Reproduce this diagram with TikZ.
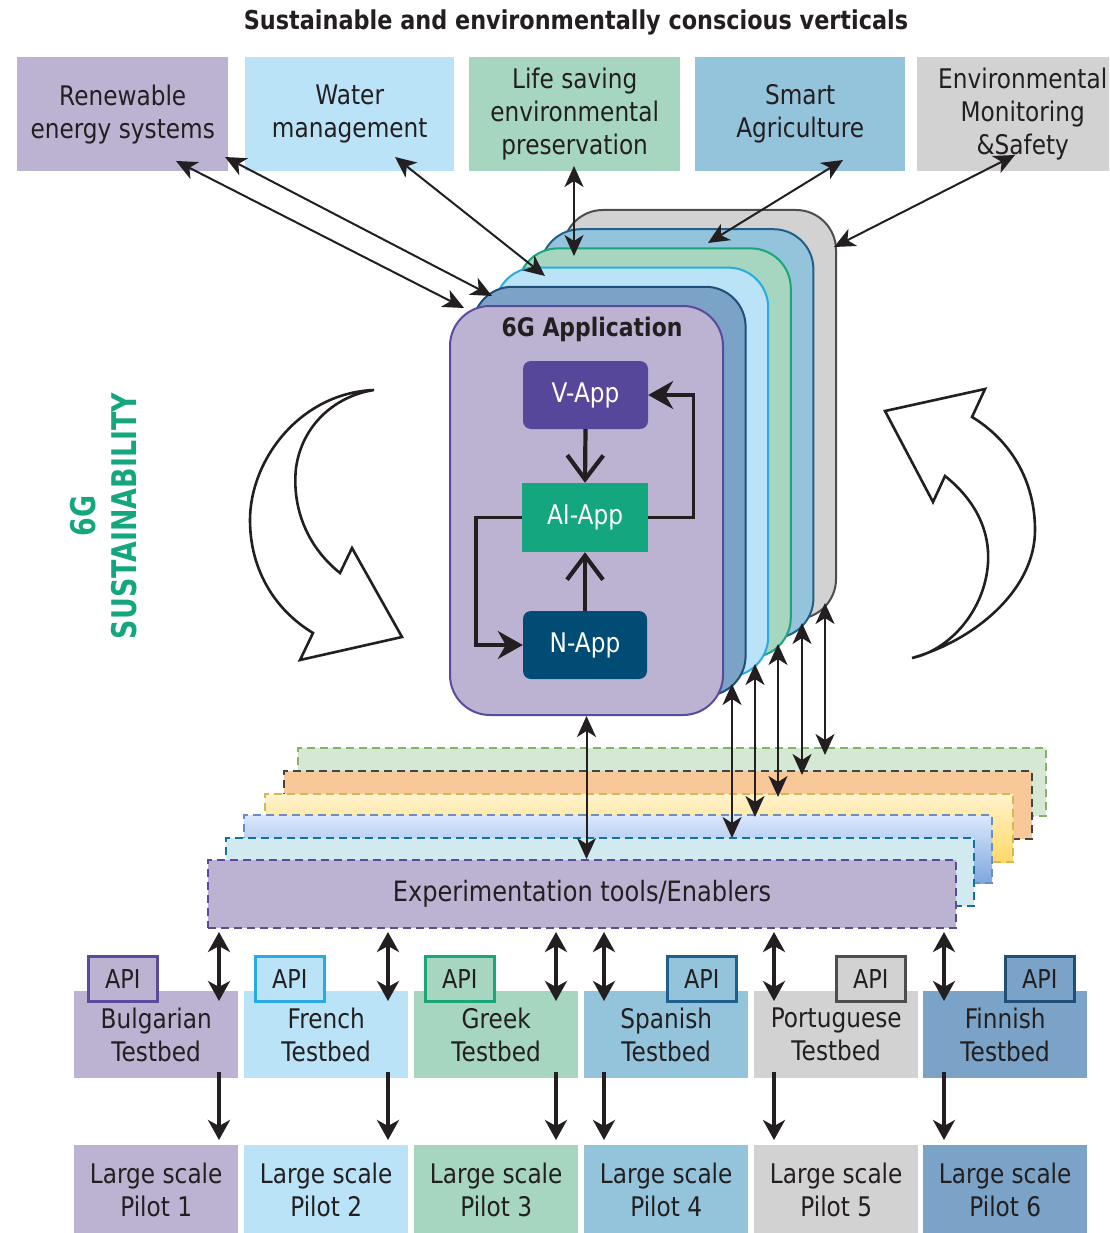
\documentclass[tikz,border=0pt]{standalone}
\usepackage{fontspec}
\setmainfont{DejaVu Sans}[FakeStretch=0.86]
\newfontfamily\susfont{DejaVu Sans}[FakeStretch=0.79]
\usetikzlibrary{arrows.meta,calc}
\definecolor{txt}{HTML}{231F20}
\definecolor{lav}{HTML}{BCB3D3}
\definecolor{lavD}{HTML}{5B4A9B}
\definecolor{lblue}{HTML}{BBE3F7}
\definecolor{lblueD}{HTML}{29ABE2}
\definecolor{mint}{HTML}{A6D5C0}
\definecolor{mintD}{HTML}{1AA57A}
\definecolor{sky}{HTML}{94C4DC}
\definecolor{skyD}{HTML}{1F5F8B}
\definecolor{lgrey}{HTML}{D2D2D2}
\definecolor{lgreyD}{HTML}{4D4D4D}
\definecolor{steel}{HTML}{7BA3C8}
\definecolor{steelD}{HTML}{1F4E79}
\definecolor{vappc}{HTML}{56479A}
\definecolor{aiappc}{HTML}{14A67E}
\definecolor{nappc}{HTML}{004C75}
\definecolor{lgF}{HTML}{D5E8D4}\definecolor{lgD}{HTML}{82B366}
\definecolor{loF}{HTML}{F9C898}\definecolor{loD}{HTML}{444444}
\definecolor{lyT}{HTML}{FFF2CC}\definecolor{lyB}{HTML}{FFD966}\definecolor{lyD}{HTML}{D6B656}
\definecolor{lbT}{HTML}{DAE8FC}\definecolor{lbB}{HTML}{7EA6E0}\definecolor{lbD}{HTML}{6C8EBF}
\definecolor{lcF}{HTML}{D1EAF0}\definecolor{lcD}{HTML}{10739E}
\newcommand\txtA{\fontsize{27}{33}\selectfont}
\newcommand\txtAPI{\fontsize{26}{30}\selectfont}
\newcommand\txtApp{\fontsize{27}{30}\selectfont}
\newcommand\txtExp{\fontsize{28}{32}\selectfont}
\tikzset{
 vbox/.style={anchor=north west, inner sep=0pt, align=center, text=txt, font=\txtA, minimum height=114pt},
 card/.style={anchor=north west, minimum width=273pt, minimum height=409pt, rounded corners=40pt, line width=2pt, inner sep=0pt},
 layer/.style={anchor=north west, minimum width=748pt, minimum height=68pt, line width=2pt, dash pattern=on 8pt off 5pt, inner sep=0pt},
 tbed/.style={anchor=north west, minimum width=164pt, minimum height=87pt, inner sep=0pt, align=center, text=txt, font=\txtA},
 pilot/.style={anchor=north west, minimum width=164pt, minimum height=90pt, inner sep=0pt, align=center, text=txt, font=\txtA},
 apibox/.style={anchor=north west, minimum width=69pt, minimum height=45pt, inner sep=0pt, line width=2.6pt, text=txt, font=\txtAPI},
 app/.style={minimum width=125pt, minimum height=68pt, inner sep=0pt, text=white, font=\txtApp},
 thinarrow/.style={line width=2pt, draw=txt, >={Stealth[length=21pt,width=19pt,inset=6pt]}, <->},
 tbarrow/.style={line width=3.5pt, draw=txt, >={Stealth[length=20pt,width=22pt,inset=6pt]}, <->},
 pilarrow/.style={line width=3.5pt, draw=txt, >={Stealth[length=20pt,width=22pt,inset=6pt]}, ->},
 apparrow/.style={line width=4.2pt, draw=txt, -{Straight Barb[length=24pt,width=36pt]}},
 looparrow/.style={line width=3.4pt, draw=txt, -{Stealth[length=25pt,width=28pt,inset=8pt]}},
 hollow/.style={line width=2.6pt, draw=txt, fill=white, line join=miter},
}
\begin{document}
\begin{tikzpicture}[x=1pt,y=-1pt]
\useasboundingbox (0,0) rectangle (1109,1233);
\clip (0,0) rectangle (1109,1233);

% title
\node[font=\bfseries\fontsize{26}{30}\selectfont, text=txt] (title) at (576,22) {Sustainable and environmentally conscious verticals};

% verticals
\node[vbox, fill=lav, minimum width=211pt] (ren) at (17,57) {Renewable\\energy systems};
\node[vbox, fill=lblue, minimum width=209pt] (wat) at (245,57) {Water\\management};
\node[vbox, fill=mint, minimum width=211pt] (life) at (469,57) {Life saving\\environmental\\preservation};
\node[vbox, fill=sky, minimum width=210pt] (smart) at (695,57) {Smart\\Agriculture};
\node[vbox, fill=lgrey, minimum width=211pt] (env) at (917,57) {Environmental\\Monitoring\\\&Safety};

% stacked application cards
\node[card, fill=lgrey, draw=lgreyD] (card5) at (562,209) {};
\node[card, fill=sky, draw=skyD] (card4) at (539.4,228.2) {};
\node[card, fill=mint, draw=mintD] (card3) at (516.8,247.4) {};
\node[card, fill=lblue, draw=lblueD] (card2) at (494.2,266.6) {};
\node[card, fill=steel, draw=steelD] (card1) at (471.6,285.8) {};
\node[card, fill=lav, draw=lavD] (card0) at (449,305) {};
\node[font=\bfseries\fontsize{25.5}{30}\selectfont, text=txt] (apptitle) at (592,329) {6G Application};

\node[app, fill=vappc, rounded corners=8pt] (vapp) at (585.5,395) {V-App};
\node[app, fill=aiappc, minimum width=126pt, minimum height=69pt] (aiapp) at (585,517.5) {AI-App};
\node[app, fill=nappc, rounded corners=8pt, minimum width=124pt] (napp) at (585,645) {N-App};
\draw[apparrow] (vapp.south) -- (aiapp.north);
\draw[apparrow] (napp.north) -- (aiapp.south);
\draw[looparrow] (aiapp.east) -- ++(45,0) |- (vapp.east);
\draw[looparrow] (aiapp.west) -- ++(-46,0) |- (napp.west);

% experimentation layers
\node[layer, fill=lgF, draw=lgD] (lay6) at (297,747) {};
\node[layer, fill=loF, draw=loD] (lay5) at (283,770) {};
\node[layer, top color=lyT, bottom color=lyB, draw=lyD] (lay4) at (264,793) {};
\node[layer, top color=lbT, bottom color=lbB, draw=lbD] (lay3) at (243,814) {};
\node[layer, fill=lcF, draw=lcD] (lay2) at (225,837) {};
\node[layer, fill=lav, draw=lavD, text=txt, font=\txtExp] (lay1) at (207,859) {Experimentation tools/Enablers};

% testbeds
\node[tbed, fill=lav] (tb1) at (74,991) {Bulgarian\\Testbed};
\node[tbed, fill=lblue] (tb2) at (244,991) {French\\Testbed};
\node[tbed, fill=mint] (tb3) at (414,991) {Greek\\Testbed};
\node[tbed, fill=sky] (tb4) at (584,991) {Spanish\\Testbed};
\node[tbed, fill=lgrey] (tb5) at (754,991) {Portuguese\\Testbed};
\node[tbed, fill=steel] (tb6) at (923,991) {Finnish\\Testbed};

\node[apibox, fill=lav, draw=lavD] (api1) at (87,955) {API};
\node[apibox, fill=lblue, draw=lblueD] (api2) at (254,955) {API};
\node[apibox, fill=mint, draw=mintD] (api3) at (424,955) {API};
\node[apibox, fill=sky, draw=skyD] (api4) at (666,955) {API};
\node[apibox, fill=lgrey, draw=lgreyD] (api5) at (835,955) {API};
\node[apibox, fill=steel, draw=steelD] (api6) at (1004,955) {API};

% pilots
\node[pilot, fill=lav] (pl1) at (74,1145) {Large scale\\Pilot 1};
\node[pilot, fill=lblue] (pl2) at (244,1145) {Large scale\\Pilot 2};
\node[pilot, fill=mint] (pl3) at (414,1145) {Large scale\\Pilot 3};
\node[pilot, fill=sky] (pl4) at (584,1145) {Large scale\\Pilot 4};
\node[pilot, fill=lgrey] (pl5) at (754,1145) {Large scale\\Pilot 5};
\node[pilot, fill=steel] (pl6) at (923,1145) {Large scale\\Pilot 6};

% arrows verticals <-> cards
\coordinate (a1t) at (176,161); \coordinate (a1b) at (464,308);
\coordinate (a2t) at (225,157); \coordinate (a2b) at (492,296);
\coordinate (a3t) at (395,157); \coordinate (a3b) at (545,276);
\coordinate (a4t) at (574,166); \coordinate (a4b) at (574,256);
\coordinate (a5t) at (843,160); \coordinate (a5b) at (708,243);
\coordinate (a6t) at (1015,155); \coordinate (a6b) at (834,247);
\foreach \i in {1,...,6} { \draw[thinarrow] (a\i t) -- (a\i b); }

% arrows cards <-> layers
\draw[thinarrow] (card0.south) -- (card0.south |- lay1.north);
\coordinate (v1t) at (732,684); \coordinate (v1b) at (732,838);
\coordinate (v2t) at (755,664); \coordinate (v2b) at (755,817);
\coordinate (v3t) at (778,644); \coordinate (v3b) at (778,797);
\coordinate (v4t) at (802,623); \coordinate (v4b) at (802,775);
\coordinate (v5t) at (825,603); \coordinate (v5b) at (825,755);
\foreach \i in {1,...,5} { \draw[thinarrow] (v\i t) -- (v\i b); }

% arrows layers <-> testbeds -> pilots
\foreach \i/\x in {1/219,2/388,3/556,4/604,5/774,6/944} {
  \coordinate (ut\i) at (\x,932);
  \coordinate (ub\i) at (\x,1001);
  \coordinate (ps\i) at (\x,1072);
  \coordinate (pe\i) at (\x,1140);
  \draw[tbarrow] (ut\i) -- (ub\i);
  \draw[pilarrow] (ps\i) -- (pe\i);
}

% hollow curved arrows
\draw[hollow] (374,390) .. controls (300,393) and (250,460) .. (250,520)
  .. controls (250,570) and (275,610) .. (313,633) -- (300,660) -- (402,637) -- (352,548) -- (340,573)
  .. controls (305,545) and (292,505) .. (296,468) .. controls (302,425) and (335,396) .. cycle;
\draw[hollow] (912,658) .. controls (975,640) and (1035,590) .. (1035,530)
  .. controls (1035,480) and (1010,440) .. (972,417) -- (985,389) -- (885,411) -- (933,502) -- (945,476)
  .. controls (975,500) and (990,530) .. (988,563) .. controls (985,610) and (950,650) .. cycle;

% side label
\node[rotate=90, align=center, text=aiappc, font=\susfont\bfseries\fontsize{34}{41}\selectfont] (sus) at (104,516) {6G\\SUSTAINABILITY};
\end{tikzpicture}
\end{document}
